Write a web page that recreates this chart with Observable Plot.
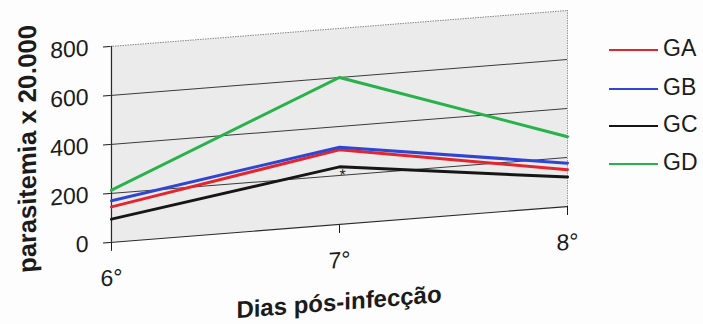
<!DOCTYPE html>
<html>
<head>
<meta charset="utf-8">
<script src="https://cdn.jsdelivr.net/npm/d3@7"></script>
<script src="https://cdn.jsdelivr.net/npm/@observablehq/plot@0.6"></script>
<style>
  html, body { margin: 0; padding: 0; background: #fdfdfd; }
  #page { position: relative; width: 703px; height: 324px; overflow: hidden;
          font-family: "Liberation Sans", Arial, sans-serif; color: #1b1b1b; }
  #chart { position: absolute; left: 0; top: 0;
           transform: skewY(-4.5deg); transform-origin: 110px 0; }
  #legend { position: absolute; left: 609px; top: 0; width: 94px; height: 200px; }
  .item { position: absolute; left: 0; width: 94px; height: 24px; }
  .swatch { position: absolute; left: 0; width: 49px; height: 2px; }
  .name { position: absolute; left: 54px; top: 0; font-size: 23px; line-height: 24px; }
</style>
</head>
<body>
<div id="page">
  <div id="chart"></div>
  <div id="legend"></div>
</div>
<script>
// Days after infection (category axis)
const days = ["6°", "7°", "8°"];
// Groups and their line colours
const groups = ["GA", "GB", "GC", "GD"];
const colors = ["#e4262c", "#3046d2", "#161616", "#27b24a"];
// Parasitaemia (x 20.000) per group, one value per day
const gaValues = [145, 305, 150];
const gbValues = [170, 315, 177];
const gcValues = [95, 235, 120];
const gdValues = [213, 600, 285];
// Value-axis ticks
const yTicks = [0, 200, 400, 600, 800];
// Titles
const yTitle = "parasitemia x 20.000";
const xTitle = "Dias pós-infecção";
// Significance marker on day 7
const starDay = ["7°"];
const starValue = [200];

const series = [gaValues, gbValues, gcValues, gdValues];
const rows = groups.flatMap((g, i) => days.map((d, j) => ({group: g, day: d, value: series[i][j]})));
const stars = starDay.map((d, i) => ({day: d, value: starValue[i]}));

const chart = Plot.plot({
  width: 703,
  height: 340,
  marginLeft: 110,
  marginRight: 136,
  marginTop: 46,
  marginBottom: 98,
  style: {fontFamily: "Liberation Sans, Arial, sans-serif", color: "#1b1b1b", background: "transparent", overflow: "visible"},
  x: {type: "point", domain: days, padding: 0},
  y: {domain: [0, 800]},
  color: {domain: groups, range: colors},
  marks: [
    Plot.frame({fill: "#ebebeb", stroke: null}),
    Plot.ruleY(yTicks.slice(1, -1), {stroke: "#3a3a3a", strokeWidth: 1}),
    Plot.ruleY(yTicks.slice(-1), {stroke: "#8a8a8a", strokeWidth: 1, strokeDasharray: "1.5,1"}),
    Plot.ruleX(days.slice(-1), {stroke: "#9a9a9a", strokeWidth: 1, strokeDasharray: "1.5,1"}),
    Plot.axisY(yTicks, {tickSize: 7, tickPadding: 15, fontSize: 23, label: null}),
    Plot.axisX({tickSize: 9, tickPadding: 18, fontSize: 23, label: null}),
    Plot.ruleX(days.slice(0, 1), {stroke: "#2a2a2a", strokeWidth: 1.2}),
    Plot.ruleY(yTicks.slice(0, 1), {stroke: "#2a2a2a", strokeWidth: 1.2}),
    Plot.line(rows, {x: "day", y: "value", z: "group", stroke: "group", strokeWidth: 3}),
    Plot.text(stars, {x: "day", y: "value", text: () => "*", fontSize: 16, dx: 3}),
    Plot.text([yTitle], {frameAnchor: "left", dx: -83, dy: -2, rotate: -90, textAnchor: "middle", lineAnchor: "middle", fontSize: 25.5, fontWeight: "bold"}),
    Plot.text([xTitle], {frameAnchor: "bottom", dy: 78, textAnchor: "middle", lineAnchor: "middle", fontSize: 24, fontWeight: "bold"})
  ]
});
document.getElementById("chart").appendChild(chart);

// Legend: one swatch line and name per group
const legendRows = [48, 87, 124, 162];
const legend = document.getElementById("legend");
groups.forEach((g, i) => {
  const item = document.createElement("div");
  item.className = "item";
  item.style.top = (legendRows[i] - 12) + "px";
  const sw = document.createElement("div");
  sw.className = "swatch";
  sw.style.top = "13px";
  sw.style.background = colors[i];
  const name = document.createElement("div");
  name.className = "name";
  name.textContent = g;
  item.appendChild(sw);
  item.appendChild(name);
  legend.appendChild(item);
});
</script>
</body>
</html>
